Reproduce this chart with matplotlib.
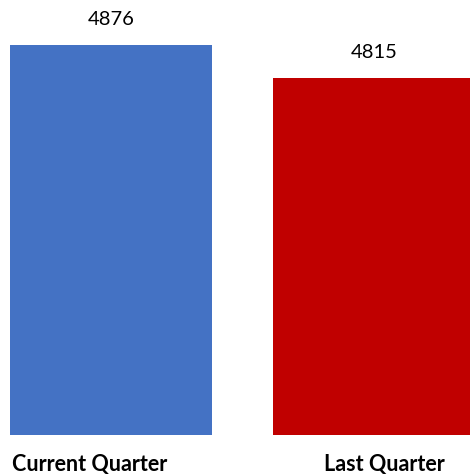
import matplotlib
matplotlib.use("Agg")
import matplotlib.pyplot as plt
from matplotlib.transforms import blended_transform_factory

categories = ["Current Quarter", "Last Quarter"]
values = [4876, 4815]
colors = ["#4472C4", "#C00000"]
# label x positions (data units) as seen in the picture
label_x = [-0.08, 1.04]

plt.rcParams["font.family"] = ["Lato", "DejaVu Sans"]

fig = plt.figure(figsize=(4.70, 4.77), dpi=100)
ax = fig.add_axes([0, 1 - 436 / 477, 1, 436 / 477])

x = list(range(len(values)))
ax.bar(x, values, width=0.768, color=colors)
ax.set_xlim(-0.422, 1.365)
ax.set_ylim(4155, 4961)

for xi, v in zip(x, values):
    ax.annotate(str(v), (xi, v), xytext=(0, 19), textcoords="offset points",
                ha="center", va="center", fontsize=14.5, color="#000000")

trans = blended_transform_factory(ax.transData, fig.transFigure)
for lx, name in zip(label_x, categories):
    ax.text(lx, 1 - 465 / 477, name, transform=trans, ha="center", va="center",
            fontsize=15.5, fontweight="bold", color="#000000")

ax.axis("off")
fig.savefig("out.png", dpi=100)
